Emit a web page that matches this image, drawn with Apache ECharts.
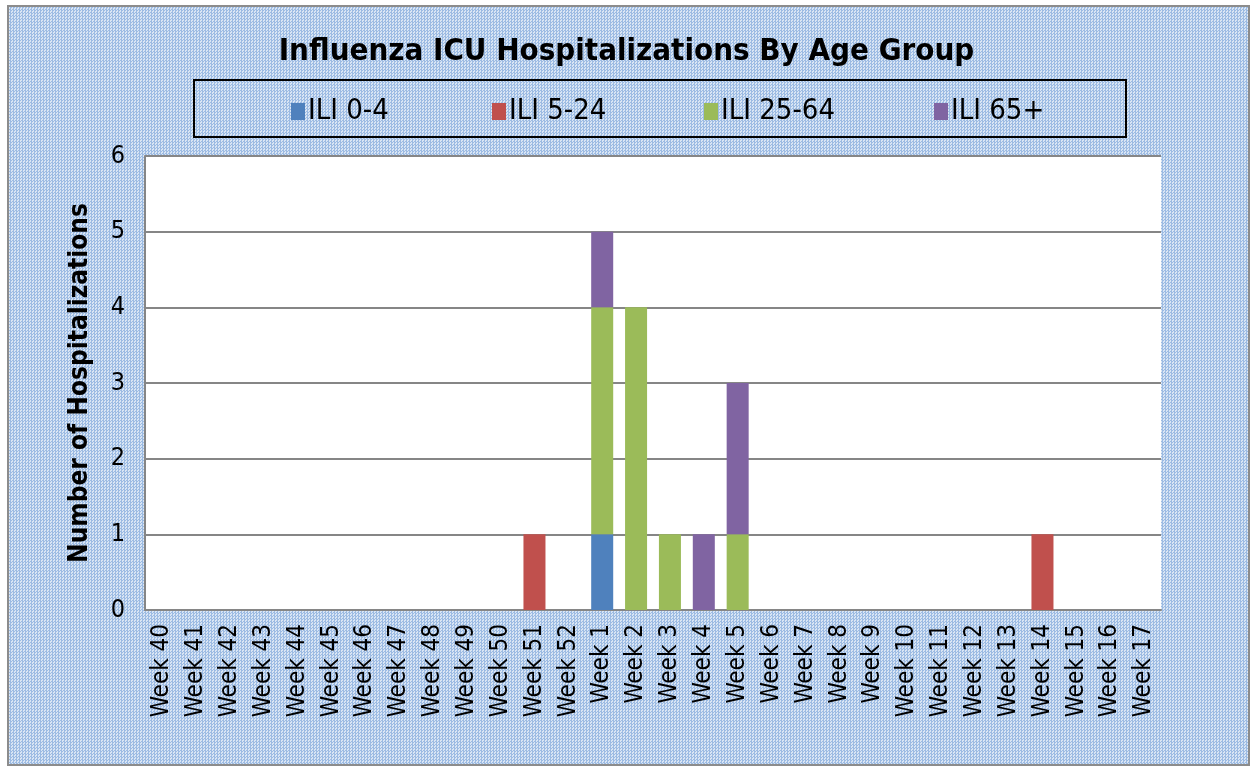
<!DOCTYPE html>
<html>
<head>
<meta charset="utf-8">
<script src="https://cdn.jsdelivr.net/npm/echarts@6/dist/echarts.min.js"></script>
<style>
  html, body { margin: 0; padding: 0; background: #fff; }
  .frame {
    position: absolute; left: 7px; top: 5px; width: 1239px; height: 757px;
    border: 2px solid #8c8c8c;
    background-color: #b8cde9;
    background-image: repeating-conic-gradient(#9cbbe3 0 25%, #d9e5f4 0 50%);
    background-size: 3px 3px;
  }
  #chart { position: absolute; left: 0; top: 0; width: 1253px; height: 769px; }
</style>
</head>
<body>
<div class="frame"></div>
<div id="chart"></div>
<script>
// weeks shown on the x axis
const weeks = ['Week 40', 'Week 41', 'Week 42', 'Week 43', 'Week 44', 'Week 45', 'Week 46',
  'Week 47', 'Week 48', 'Week 49', 'Week 50', 'Week 51', 'Week 52', 'Week 1', 'Week 2',
  'Week 3', 'Week 4', 'Week 5', 'Week 6', 'Week 7', 'Week 8', 'Week 9', 'Week 10',
  'Week 11', 'Week 12', 'Week 13', 'Week 14', 'Week 15', 'Week 16', 'Week 17'];

const ili0to4 = [0,0,0,0,0,0,0,0,0,0,0,0,0, 1,0,0,0,0, 0,0,0,0,0,0,0,0,0,0,0,0];
const ili5to24 = [0,0,0,0,0,0,0,0,0,0,0,1,0, 0,0,0,0,0, 0,0,0,0,0,0,0,0,1,0,0,0];
const ili25to64 = [0,0,0,0,0,0,0,0,0,0,0,0,0, 3,4,1,0,1, 0,0,0,0,0,0,0,0,0,0,0,0];
const ili65plus = [0,0,0,0,0,0,0,0,0,0,0,0,0, 1,0,0,1,2, 0,0,0,0,0,0,0,0,0,0,0,0];

const yTicks = [0, 1, 2, 3, 4, 5, 6];

const names = ['ILI 0-4', 'ILI 5-24', 'ILI 25-64', 'ILI 65+'];
const colors = ['#4f81bd', '#c0504d', '#9bbb59', '#8064a2'];
const values = [ili0to4, ili5to24, ili25to64, ili65plus];
const legendLeft = [286, 487, 699, 929];

const font = "'DejaVu Sans Condensed', 'Liberation Sans', sans-serif";

const chart = echarts.init(document.getElementById('chart'));

chart.setOption({
  animation: false,
  textStyle: { fontFamily: font },
  title: {
    text: 'Influenza ICU Hospitalizations By Age Group',
    left: 'center',
    top: 31,
    textStyle: { fontSize: 31, fontWeight: 'bold', color: '#000', fontFamily: font }
  },
  graphic: [{
    type: 'rect',
    shape: { x: 194, y: 80, width: 932, height: 57 },
    style: { fill: 'none', stroke: '#000', lineWidth: 2 }
  }],
  legend: names.map((n, i) => ({
    data: [n],
    left: legendLeft[i],
    top: 92,
    icon: 'rect',
    itemWidth: 14,
    itemHeight: 17,
    itemGap: 6,
    textStyle: { fontSize: 29, color: '#000', fontFamily: font, padding: [0, 0, 0, -2] }
  })),
  grid: {
    left: 145, top: 156, right: 92, bottom: 159,
    show: true, backgroundColor: '#fff', borderWidth: 0
  },
  xAxis: {
    type: 'category',
    data: weeks,
    axisLine: { lineStyle: { color: '#868686', width: 2 } },
    axisTick: { show: false },
    axisLabel: {
      rotate: 90, interval: 0, fontSize: 24, color: '#000', margin: 14
    }
  },
  yAxis: {
    type: 'value',
    min: yTicks[0],
    max: yTicks[yTicks.length - 1],
    interval: 1,
    name: 'Number of Hospitalizations',
    nameLocation: 'middle',
    nameRotate: 90,
    nameGap: 52,
    nameTextStyle: { fontSize: 26, fontWeight: 'bold', color: '#000' },
    axisLine: { show: true, lineStyle: { color: '#868686', width: 2 } },
    axisTick: { show: false },
    axisLabel: { fontSize: 25, color: '#000', margin: 20 },
    splitLine: { lineStyle: { color: '#868686', width: 2 } }
  },
  series: names.map((n, i) => ({
    name: n,
    type: 'bar',
    stack: 'total',
    barWidth: '65%',
    itemStyle: { color: colors[i] },
    data: values[i]
  }))
});
</script>
</body>
</html>
